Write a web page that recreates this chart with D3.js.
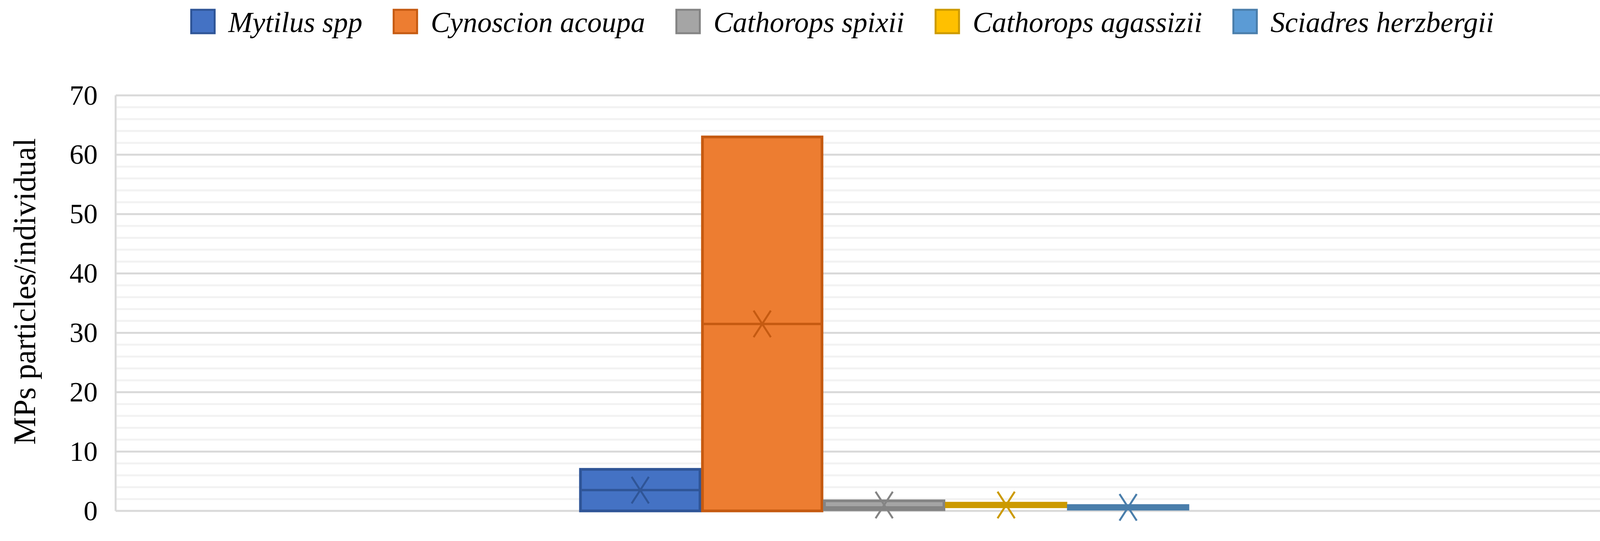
<!DOCTYPE html>
<html><head><meta charset="utf-8">
<script src="https://cdn.jsdelivr.net/npm/d3@7"></script>
<style>body{margin:0;background:#fff}</style>
</head><body><div id="chart"></div>
<script>
// Box plot of MPs particles per individual, one box per species

const species = ['Mytilus spp', 'Cynoscion acoupa', 'Cathorops spixii', 'Cathorops agassizii', 'Sciadres herzbergii'];
const q1Values = [0, 0, 0.2, 0.7, 0.3];
const q3Values = [7, 63, 1.7, 1.3, 0.9];
const medianValues = [3.5, 31.5, 0.6, 1.0, 0.6];
const meanValues = [3.5, 31.5, 1.0, 1.0, 0.6];
const yTicks = [0, 10, 20, 30, 40, 50, 60, 70];

const fills = ['#4472c4', '#ed7d31', '#a5a5a5', '#ffc000', '#5b9bd5'];
const strokes = ['#2f5597', '#c55a11', '#848484', '#cc9a00', '#4a7eab'];

const width = 4295, height = 1384;
const margin = { top: 244, right: 104, bottom: 77, left: 296 };
const chartWidth = width - margin.left - margin.right;
const chartHeight = height - margin.top - margin.bottom;

const svg = d3.select("#chart").append("svg")
    .attr("width", width).attr("height", height)
    .style("font-family", "'Liberation Serif', serif");

const chart = svg.append("g").attr("transform", `translate(${margin.left},${margin.top})`);

const yScale = d3.scaleLinear().domain([0, 70]).range([chartHeight, 0]);

// box positions: boxes sit side by side in the middle of the plot
const xScale = d3.scaleBand()
    .domain(species)
    .range([1486 - margin.left, 3041 - margin.left])
    .paddingInner(0.02);

// minor gridlines every 2
chart.append("g").selectAll("line")
    .data(d3.range(0, 71, 2).filter(v => v % 10 !== 0))
    .join("line")
    .attr("x1", 0).attr("x2", chartWidth)
    .attr("y1", d => yScale(d)).attr("y2", d => yScale(d))
    .attr("stroke", "#f2f2f2").attr("stroke-width", 5);

// major gridlines
chart.append("g").selectAll("line")
    .data(yTicks)
    .join("line")
    .attr("x1", 0).attr("x2", chartWidth)
    .attr("y1", d => yScale(d)).attr("y2", d => yScale(d))
    .attr("stroke", "#d9d9d9").attr("stroke-width", 5);

// left axis line
chart.append("line")
    .attr("x1", 0).attr("x2", 0).attr("y1", 0).attr("y2", chartHeight)
    .attr("stroke", "#d9d9d9").attr("stroke-width", 5);

// tick labels
const yAxis = chart.append("g")
    .call(d3.axisLeft(yScale).tickValues(yTicks).tickSize(0).tickPadding(46));
yAxis.select(".domain").remove();
yAxis.selectAll("text")
    .style("font-family", "'Liberation Serif', serif")
    .style("font-size", "72px").attr("fill", "#000");

// axis title
svg.append("text")
    .attr("transform", `translate(90,${margin.top + chartHeight / 2 - 30}) rotate(-90)`)
    .attr("text-anchor", "middle")
    .style("font-size", "80px")
    .text("MPs particles/individual");

// boxes
species.forEach((s, i) => {
    const x = xScale(s);
    const bw = xScale.bandwidth();
    const g = chart.append("g");
    g.append("rect")
        .attr("x", x).attr("y", yScale(q3Values[i]))
        .attr("width", bw).attr("height", Math.max(6, yScale(q1Values[i]) - yScale(q3Values[i])))
        .attr("fill", fills[i]).attr("stroke", strokes[i]).attr("stroke-width", 7);
    g.append("line")
        .attr("x1", x).attr("x2", x + bw)
        .attr("y1", yScale(medianValues[i])).attr("y2", yScale(medianValues[i]))
        .attr("stroke", strokes[i]).attr("stroke-width", 6);
    // mean marker
    const cx = x + bw / 2, cy = yScale(meanValues[i]);
    g.append("path")
        .attr("d", `M${cx - 22},${cy - 34}L${cx + 22},${cy + 34}M${cx + 22},${cy - 34}L${cx - 22},${cy + 34}`)
        .attr("stroke", strokes[i]).attr("stroke-width", 5).attr("fill", "none");
});

// legend centred at top
const legend = svg.append("g");
let lx = 0;
species.forEach((s, i) => {
    const item = legend.append("g").attr("transform", `translate(${lx},0)`);
    item.append("rect")
        .attr("x", 0).attr("y", 25).attr("width", 60).attr("height", 60)
        .attr("fill", fills[i]).attr("stroke", strokes[i]).attr("stroke-width", 5);
    const t = item.append("text")
        .attr("x", 95).attr("y", 82)
        .style("font-size", "74px").style("font-style", "italic")
        .text(s);
    lx += 95 + t.node().getComputedTextLength() + 80;
});
lx -= 80;
legend.attr("transform", `translate(${2157 - lx / 2},0)`);
</script>
</body></html>
